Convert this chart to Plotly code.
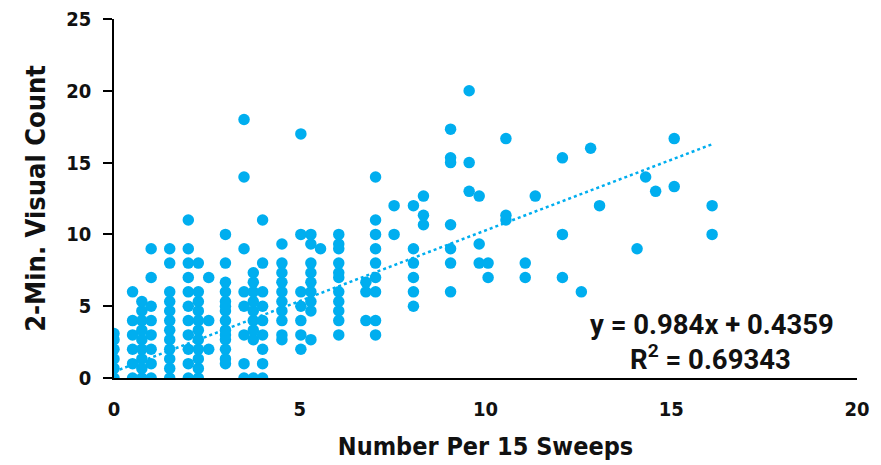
import plotly.graph_objects as go

# ---- data ----
x_vals = (
    [0]*6 + [0.5]*6 + [0.75]*9 + [1]*8 + [1.5]*12 + [2]*11 + [2.27]*11 + [2.55]*3 +
    [3]*14 + [3.5]*8 + [3.75]*9 + [4]*9 + [4.52]*10 + [5.03]*7 + [5.3]*9 + [5.56]*1 +
    [6.05]*11 + [6.78]*3 + [7.04]*9 + [7.54]*2 + [8.06]*6 + [8.33]*3 + [9.06]*7 +
    [9.56]*3 + [9.83]*3 + [10.07]*2 + [10.55]*3 + [11.07]*2 + [11.34]*1 + [12.07]*3 +
    [12.58]*1 + [12.83]*1 + [13.07]*1 + [14.08]*1 + [14.31]*1 + [14.58]*1 + [15.08]*2 +
    [16.1]*2
)
y_vals = (
    [0, 0.67, 1.33, 2, 2.67, 3.1] +
    [0, 1, 2, 3, 4, 6] +
    [0, 0.67, 1.33, 2, 2.67, 3.33, 4, 4.67, 5.33] +
    [0, 1, 2, 3, 4, 5, 7, 9] +
    [0, 0.67, 1.33, 2, 2.67, 3.33, 4, 4.67, 5.33, 6, 8, 9] +
    [0, 1, 2, 3, 4, 5, 6, 7, 8, 9, 11] +
    [0, 0.67, 1.33, 2, 2.67, 3.33, 4, 4.67, 5.33, 6, 8] +
    [2, 4, 7] +
    [1, 1.33, 2, 2.67, 3, 3.33, 4, 4.67, 5, 5.33, 6, 6.67, 8, 10] +
    [0, 1, 3, 5, 6, 9, 14, 18] +
    [0, 2.67, 3.33, 4, 4.67, 5.33, 6, 6.67, 7.33] +
    [0, 1, 2, 3, 4, 5, 6, 8, 11] +
    [2.67, 3, 4, 4.67, 5.33, 6, 6.67, 7.33, 8, 9.33] +
    [2, 3, 4, 5, 6, 10, 17] +
    [2.67, 4.67, 5.33, 6, 6.67, 7.33, 8, 9.33, 10] +
    [9] +
    [3, 4, 4.67, 5.33, 6, 7, 7.33, 8, 9, 9.33, 10] +
    [4, 6, 6.67] +
    [3, 4, 6, 7, 8, 9, 10, 11, 14] +
    [10, 12] +
    [5, 6, 7, 8, 9, 12] +
    [10.67, 11.33, 12.67] +
    [6, 8, 9, 10.67, 15, 15.33, 17.33] +
    [13, 15, 20] +
    [8, 9.33, 12.67] +
    [7, 8] +
    [11, 11.33, 16.67] +
    [7, 8] +
    [12.67] +
    [7, 10, 15.33] +
    [6] +
    [16] +
    [12] +
    [9] +
    [14] +
    [13] +
    [13.33, 16.67] +
    [10, 12]
)

slope = 0.984
intercept = 0.4359
r_squared = 0.69343

x_ticks = [0, 5, 10, 15, 20]
y_ticks = [0, 5, 10, 15, 20, 25]

x_title = "Number Per 15 Sweeps"
y_title = "2-Min. Visual Count"

BLUE = "#00AEEF"
NARROW = "Liberation Sans Narrow, DejaVu Sans Condensed, Arial Narrow, sans-serif"
EQ_FONT = "Roboto, Arial, sans-serif"

fit_x = [min(x_vals), max(x_vals)]
fit_y = [slope * v + intercept for v in fit_x]

fig = go.Figure()
fig.add_trace(go.Scatter(
    x=fit_x, y=fit_y, mode="lines",
    line=dict(color=BLUE, width=2.5, dash="dot"),
    hoverinfo="skip", showlegend=False,
))
fig.add_trace(go.Scatter(
    x=x_vals, y=y_vals, mode="markers",
    marker=dict(color=BLUE, size=11.5, line=dict(width=0)),
    showlegend=False,
))

fig.add_annotation(
    x=0.805, xref="paper", y=0.148, yref="paper", xanchor="center", yanchor="middle",
    text=f"y = {slope}x + {intercept}", showarrow=False,
    font=dict(family=EQ_FONT, size=27.5, color="#111111", weight="bold"),
)
fig.add_annotation(
    x=0.803, xref="paper", y=0.056, yref="paper", xanchor="center", yanchor="middle",
    text=f"R<sup>2</sup> = {r_squared}", showarrow=False,
    font=dict(family=EQ_FONT, size=27.5, color="#111111", weight="bold"),
)

# page body adds ~8px offset, so the figure is 8px smaller and margins shifted
fig.update_layout(
    width=873, height=457,
    margin=dict(l=106, r=24, t=11, b=87),
    paper_bgcolor="white", plot_bgcolor="white",
    font=dict(family=NARROW, color="#111111"),
    xaxis=dict(
        range=[0, 20], tickvals=x_ticks, showgrid=False, zeroline=False,
        showline=True, linecolor="black", linewidth=1.5, ticks="",
        tickfont=dict(size=20, family=NARROW, weight="bold"),
        ticklabelstandoff=12, automargin=False, ticklabeloverflow="allow",
        title=dict(text=x_title, font=dict(size=25, family=NARROW, weight="bold"), standoff=18),
    ),
    yaxis=dict(
        range=[0, 25], tickvals=y_ticks, showgrid=False, zeroline=False,
        showline=True, linecolor="black", linewidth=1.5,
        ticks="outside", ticklen=9, tickwidth=1.5, tickcolor="black",
        tickfont=dict(size=20, family=NARROW, weight="bold"),
        ticklabelstandoff=8, automargin=False, ticklabeloverflow="allow",
        title=dict(text=y_title, font=dict(size=27, family=NARROW, weight="bold"), standoff=13),
    ),
)

fig.write_html("out.html")
